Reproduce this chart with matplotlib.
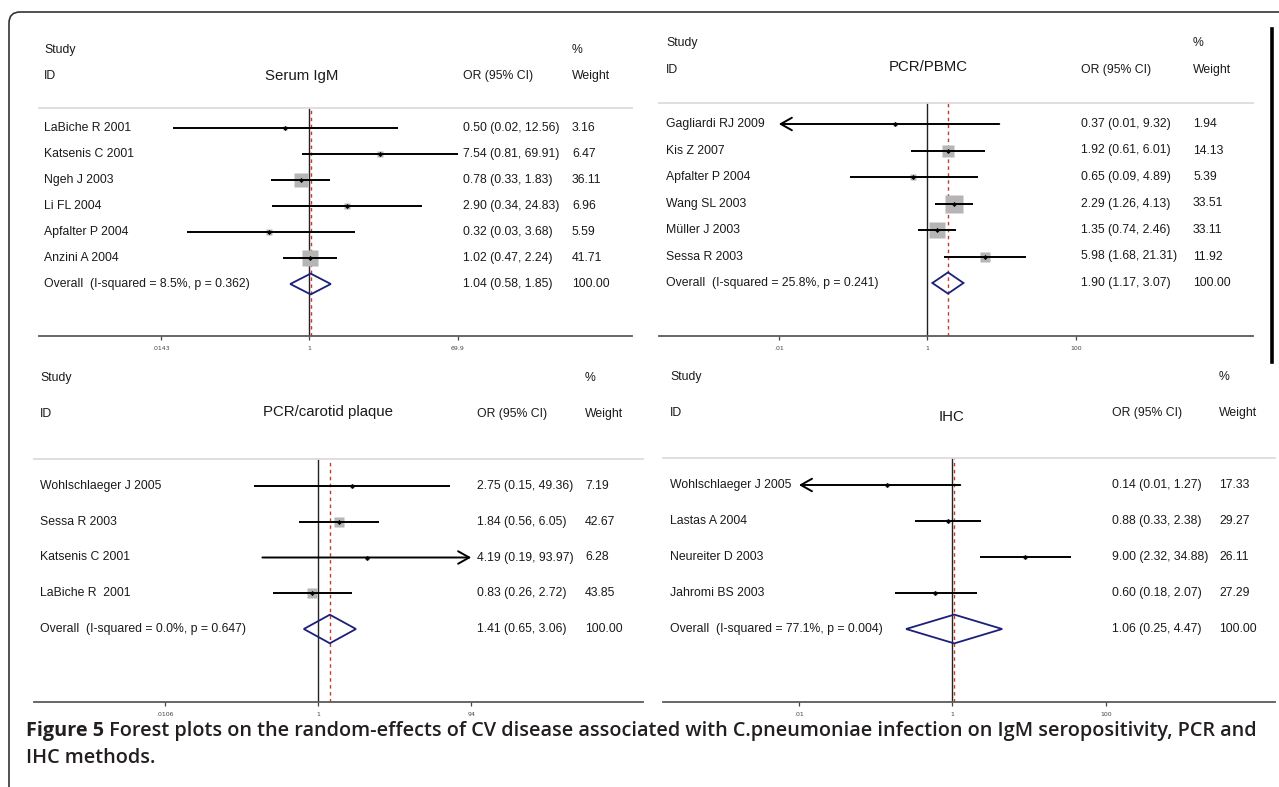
import numpy as np
import matplotlib
matplotlib.use('Agg')
import matplotlib.pyplot as plt
from matplotlib.patches import Polygon, FancyBboxPatch
from matplotlib.lines import Line2D
from matplotlib.transforms import blended_transform_factory, IdentityTransform
from matplotlib.ticker import NullLocator

# ---- data: panel 1, Serum IgM
p1_title = 'Serum IgM'
p1_studies = ['LaBiche R 2001', 'Katsenis C 2001', 'Ngeh J 2003', 'Li FL 2004',
              'Apfalter P 2004', 'Anzini A 2004']
p1_or = [0.50, 7.54, 0.78, 2.90, 0.32, 1.02]
p1_lo = [0.02, 0.81, 0.33, 0.34, 0.03, 0.47]
p1_hi = [12.56, 69.91, 1.83, 24.83, 3.68, 2.24]
p1_wt = [3.16, 6.47, 36.11, 6.96, 5.59, 41.71]
p1_arrow = [None, None, None, None, None, None]
p1_overall = [1.04, 0.58, 1.85]
p1_het = 'Overall  (I-squared = 8.5%, p = 0.362)'
p1_ticks = [0.0143, 1, 69.9]
p1_ticklabels = ['.0143', '1', '69.9']

# ---- panel 2, PCR/PBMC
p2_title = 'PCR/PBMC'
p2_studies = ['Gagliardi RJ 2009', 'Kis Z 2007', 'Apfalter P 2004', 'Wang SL 2003',
              'Müller J 2003', 'Sessa R 2003']
p2_or = [0.37, 1.92, 0.65, 2.29, 1.35, 5.98]
p2_lo = [0.01, 0.61, 0.09, 1.26, 0.74, 1.68]
p2_hi = [9.32, 6.01, 4.89, 4.13, 2.46, 21.31]
p2_wt = [1.94, 14.13, 5.39, 33.51, 33.11, 11.92]
p2_arrow = ['left', None, None, None, None, None]
p2_overall = [1.90, 1.17, 3.07]
p2_het = 'Overall  (I-squared = 25.8%, p = 0.241)'
p2_ticks = [0.01, 1, 100]
p2_ticklabels = ['.01', '1', '100']

# ---- panel 3, PCR/carotid plaque
p3_title = 'PCR/carotid plaque'
p3_studies = ['Wohlschlaeger J 2005', 'Sessa R 2003', 'Katsenis C 2001', 'LaBiche R  2001']
p3_or = [2.75, 1.84, 4.19, 0.83]
p3_lo = [0.15, 0.56, 0.19, 0.26]
p3_hi = [49.36, 6.05, 93.97, 2.72]
p3_wt = [7.19, 42.67, 6.28, 43.85]
p3_arrow = [None, None, 'right', None]
p3_overall = [1.41, 0.65, 3.06]
p3_het = 'Overall  (I-squared = 0.0%, p = 0.647)'
p3_ticks = [0.0106, 1, 94]
p3_ticklabels = ['.0106', '1', '94']

# ---- panel 4, IHC
p4_title = 'IHC'
p4_studies = ['Wohlschlaeger J 2005', 'Lastas A 2004', 'Neureiter D 2003', 'Jahromi BS 2003']
p4_or = [0.14, 0.88, 9.00, 0.60]
p4_lo = [0.01, 0.33, 2.32, 0.18]
p4_hi = [1.27, 2.38, 34.88, 2.07]
p4_wt = [17.33, 29.27, 26.11, 27.29]
p4_arrow = ['left', None, None, None]
p4_overall = [1.06, 0.25, 4.47]
p4_het = 'Overall  (I-squared = 77.1%, p = 0.004)'
p4_ticks = [0.01, 1, 100]
p4_ticklabels = ['.01', '1', '100']

W, H = 1279, 787
DPI = 100
FONT = 'Liberation Sans'
TXT = '#1a1a1a'

fig = plt.figure(figsize=(W / DPI, H / DPI), dpi=DPI)
fig.patch.set_facecolor('white')


def fx(px):
    return px / W


def fy(py):
    return 1 - py / H


def forest(g, title, studies, ors, los, his, wts, arrows, overall, het, ticks, ticklabels):
    left, right = g['left'], g['right']
    ax = fig.add_axes([fx(left), fy(g['axis_y']), (right - left) / W, (g['axis_y'] - g['sep_y']) / H])
    ax.set_xscale('log')
    xl = 10 ** ((left - g['null_x']) / g['ppd'])
    xr = 10 ** ((right - g['null_x']) / g['ppd'])
    ax.set_xlim(xl, xr)
    ytop = (g['sep_y'] - g['row0']) / g['dy']
    ybot = (g['axis_y'] - g['row0']) / g['dy']
    ax.set_ylim(ybot, ytop)
    ax.patch.set_alpha(0)
    for s in ['left', 'right']:
        ax.spines[s].set_visible(False)
    ax.spines['top'].set_color('#dcdcdc')
    ax.spines['top'].set_linewidth(1.3)
    ax.spines['bottom'].set_color('#5a5a5a')
    ax.spines['bottom'].set_linewidth(1.3)
    ax.set_yticks([])
    ax.set_xticks(ticks)
    ax.set_xticklabels(ticklabels)
    ax.xaxis.set_minor_locator(NullLocator())
    ax.tick_params(axis='x', direction='out', length=3, width=0.9, colors='#444',
                   labelsize=4.5, pad=4)

    ax.axvline(1, color='#222', lw=1.0, zorder=1)
    ax.axvline(overall[0], color='#c8382e', lw=1.0, ls=(0, (2.5, 2.5)), zorder=1.5)

    tr = blended_transform_factory(ax.transAxes, ax.transData)
    span = right - left
    cs = (g['c_study'] - left) / span
    co = (g['c_or'] - left) / span
    cw = (g['c_wt'] - left) / span
    fs = 8.8

    for i in range(len(studies)):
        ax.plot(ors[i], i, marker='s', ms=g['box'] * np.sqrt(wts[i]) * 0.72,
                color='#b5b5b5', mec='none', zorder=2)
        if arrows[i] == 'left':
            ax.annotate('', xy=(los[i], i), xytext=(his[i], i),
                        arrowprops=dict(arrowstyle='->,head_length=0.8,head_width=0.45',
                                        lw=1.4, color='black', shrinkA=0, shrinkB=0), zorder=3)
        elif arrows[i] == 'right':
            ax.annotate('', xy=(his[i], i), xytext=(los[i], i),
                        arrowprops=dict(arrowstyle='->,head_length=0.8,head_width=0.45',
                                        lw=1.4, color='black', shrinkA=0, shrinkB=0), zorder=3)
        else:
            ax.plot([los[i], his[i]], [i, i], color='black', lw=1.4, zorder=3,
                    solid_capstyle='butt')
        ax.plot(ors[i], i, marker='D', ms=2.6, color='black', mec='none', zorder=4)
        ax.text(cs, i, studies[i], transform=tr, va='center', ha='left',
                fontsize=fs, family=FONT, color=TXT, clip_on=False)
        ax.text(co, i, f'{ors[i]:.2f} ({los[i]:.2f}, {his[i]:.2f})', transform=tr,
                va='center', ha='left', fontsize=fs, family=FONT, color=TXT, clip_on=False)
        ax.text(cw, i, f'{wts[i]:.2f}', transform=tr, va='center', ha='left',
                fontsize=fs, family=FONT, color=TXT, clip_on=False)

    n = len(studies)
    est, lo, hi = overall
    ax.add_patch(Polygon([[lo, n], [est, n - 0.4], [hi, n], [est, n + 0.4]], closed=True,
                         fill=False, edgecolor='#1c1f78', lw=1.3, zorder=4))
    ax.text(cs, n, het, transform=tr, va='center', ha='left',
            fontsize=fs, family=FONT, color=TXT, clip_on=False)
    ax.text(co, n, f'{est:.2f} ({lo:.2f}, {hi:.2f})', transform=tr, va='center',
            ha='left', fontsize=fs, family=FONT, color=TXT, clip_on=False)
    ax.text(cw, n, '100.00', transform=tr, va='center', ha='left',
            fontsize=fs, family=FONT, color=TXT, clip_on=False)

    # headers
    fig.text(fx(g['c_study']), fy(g['h1']), 'Study', va='center', fontsize=fs, family=FONT, color=TXT)
    fig.text(fx(g['c_wt']), fy(g['h1']), '%', va='center', fontsize=fs, family=FONT, color=TXT)
    fig.text(fx(g['c_study']), fy(g['h2']), 'ID', va='center', fontsize=fs, family=FONT, color=TXT)
    fig.text(fx(g['c_or']), fy(g['h2']), 'OR (95% CI)', va='center', fontsize=fs, family=FONT, color=TXT)
    fig.text(fx(g['c_wt']), fy(g['h2']), 'Weight', va='center', fontsize=fs, family=FONT, color=TXT)
    fig.text(fx(g['t_x']), fy(g['t_y']), title, va='center', ha='center', fontsize=10.8,
             family=FONT, color=TXT)
    return ax


g1 = dict(left=39, right=632, sep_y=108, axis_y=336, null_x=309.3, ppd=80.5, row0=128, dy=26,
          c_study=44, c_or=463, c_wt=572, h1=50, h2=76, t_x=302, t_y=76, box=2.48)
g2 = dict(left=659, right=1253, sep_y=103, axis_y=336, null_x=927.3, ppd=74.25, row0=124, dy=26.5,
          c_study=666, c_or=1081, c_wt=1193, h1=43, h2=70, t_x=928, t_y=67, box=2.94)
g3 = dict(left=34, right=643, sep_y=459, axis_y=702, null_x=318.3, ppd=77.5, row0=486, dy=35.75,
          c_study=40, c_or=477, c_wt=585, h1=378, h2=414, t_x=328, t_y=412, box=1.66)
g4 = dict(left=663, right=1275, sep_y=458, axis_y=702, null_x=952.3, ppd=76.7, row0=485, dy=36,
          c_study=670, c_or=1112, c_wt=1219, h1=377, h2=413, t_x=951, t_y=417, box=0.9)

forest(g1, p1_title, p1_studies, p1_or, p1_lo, p1_hi, p1_wt, p1_arrow, p1_overall, p1_het,
       p1_ticks, p1_ticklabels)
forest(g2, p2_title, p2_studies, p2_or, p2_lo, p2_hi, p2_wt, p2_arrow, p2_overall, p2_het,
       p2_ticks, p2_ticklabels)
forest(g3, p3_title, p3_studies, p3_or, p3_lo, p3_hi, p3_wt, p3_arrow, p3_overall, p3_het,
       p3_ticks, p3_ticklabels)
forest(g4, p4_title, p4_studies, p4_or, p4_lo, p4_hi, p4_wt, p4_arrow, p4_overall, p4_het,
       p4_ticks, p4_ticklabels)

# thick black bar at right of upper-right panel
fig.add_artist(Line2D([fx(1272), fx(1272)], [fy(29), fy(362)], lw=2.6, color='black'))

# rounded frame round the figure (only the top-left corner is inside the picture)
frame = FancyBboxPatch((9, -30), 1400, H - 12 + 30, boxstyle='round,pad=0,rounding_size=11',
                       transform=IdentityTransform(), fill=False, edgecolor='#333333', lw=1.2)
fig.add_artist(frame)

# caption
cap_ax = fig.add_axes([0, 0, 1, 1])
cap_ax.axis('off')
cap_ax.patch.set_alpha(0)
t1 = cap_ax.text(fx(26), fy(731), 'Figure 5', fontsize=14.3, weight='bold', family='Open Sans',
                 color='#231f20', va='center', ha='left')
cap_ax.annotate(' Forest plots on the random-effects of CV disease associated with C.pneumoniae '
                'infection on IgM seropositivity, PCR and',
                xy=(1, 0), xycoords=t1, va='bottom', ha='left', fontsize=14.3, weight='semibold',
                family='Open Sans', color='#231f20')
cap_ax.text(fx(26), fy(758), 'IHC methods.', fontsize=14.3, weight='semibold', family='Open Sans',
            color='#231f20', va='center', ha='left')

fig.savefig('out.png', dpi=DPI)
